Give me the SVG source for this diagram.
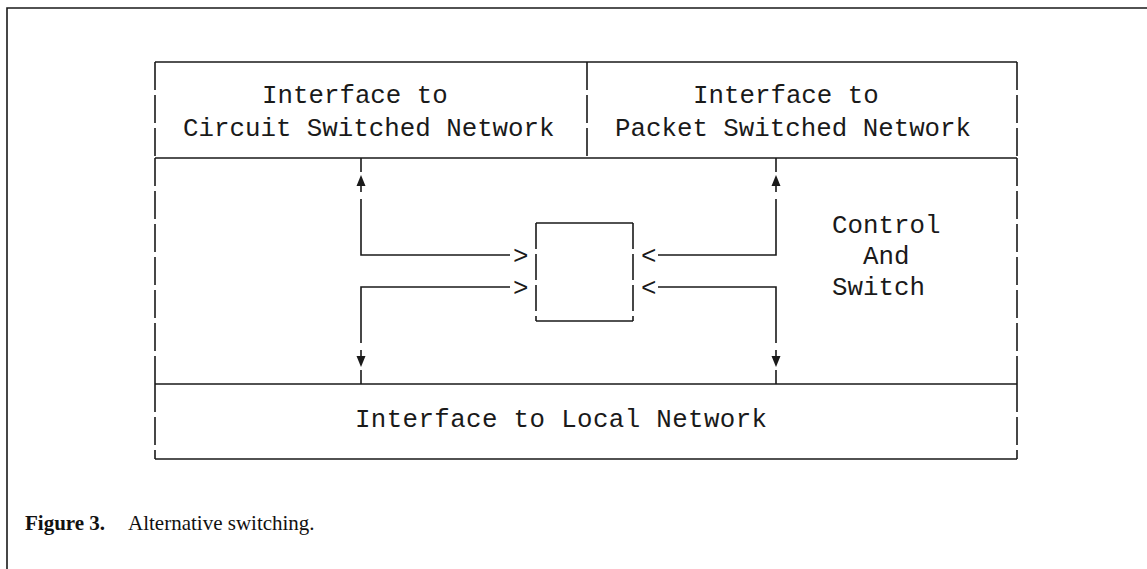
<svg xmlns="http://www.w3.org/2000/svg" width="1147" height="569" viewBox="0 0 1147 569">
<style>
.ln{stroke:#1a1a1a;stroke-width:1.6;fill:none}
.dv{stroke:#1a1a1a;stroke-width:1.6;fill:none;stroke-dasharray:28 5}
.db{stroke:#1a1a1a;stroke-width:1.6;fill:none;stroke-dasharray:26 5}
.t{font-family:"Liberation Mono","DejaVu Sans Mono",monospace;font-size:25.8px;fill:#1a1a1a}
.cap{font-family:"Liberation Serif","Times New Roman",serif;font-size:21px;fill:#111}
.ah{fill:#1a1a1a}
</style>
<rect width="1147" height="569" fill="#fff"/>
<g id="frame">
<path class="ln" d="M7,569 V8 H1147" stroke-width="2.2"/>
</g>
<g id="circuit-interface">
<path class="ln" d="M155,62 H587 M155,158 H587"/>
<path class="dv" d="M155,62 V158 M587,62 V158"/>
<text class="t" x="262" y="103">Interface to</text>
<text class="t" x="183" y="136">Circuit Switched Network</text>
</g>
<g id="packet-interface">
<path class="ln" d="M587,62 H1017 M587,158 H1017"/>
<path class="dv" d="M1017,62 V158"/>
<text class="t" x="693" y="103">Interface to</text>
<text class="t" x="615" y="136">Packet Switched Network</text>
</g>
<g id="control-switch">
<path class="dv" d="M155,158 V384 M1017,158 V384"/>
<text class="t" x="832" y="233">Control</text>
<text class="t" x="863" y="264">And</text>
<text class="t" x="832" y="295">Switch</text>
</g>
<g id="switch-box">
<path class="ln" d="M536,223 H633 M536,321 H633"/>
<path class="db" d="M536,223 V321 M633,223 V321"/>
</g>
<g id="local-interface">
<path class="ln" d="M155,384 H1017 M155,459 H1017"/>
<path class="dv" d="M155,384 V459 M1017,384 V459"/>
<text class="t" x="355" y="427" textLength="412" lengthAdjust="spacing">Interface to Local Network</text>
</g>
<g id="connectors">
<path class="ln" d="M361,158 V172 M361,183 V192 M361,199 V255 H510"/>
<path class="ln" d="M361,384 V370 M361,359 V350 M361,343 V287 H510"/>
<path class="ln" d="M776,158 V172 M776,183 V192 M776,199 V255 H658"/>
<path class="ln" d="M776,384 V370 M776,359 V350 M776,343 V287 H658"/>
<path class="ah" d="M361,175 L356.5,186 L365.5,186 Z"/>
<path class="ah" d="M361,367 L356.5,356 L365.5,356 Z"/>
<path class="ah" d="M776,175 L771.5,186 L780.5,186 Z"/>
<path class="ah" d="M776,367 L771.5,356 L780.5,356 Z"/>
<text class="t" x="513" y="264">&gt;</text>
<text class="t" x="513" y="296">&gt;</text>
<text class="t" x="641" y="264">&lt;</text>
<text class="t" x="641" y="296">&lt;</text>
</g>
<g id="caption">
<text class="cap" x="25" y="530"><tspan font-weight="bold">Figure  3.</tspan><tspan x="128">Alternative switching.</tspan></text>
</g>
</svg>
